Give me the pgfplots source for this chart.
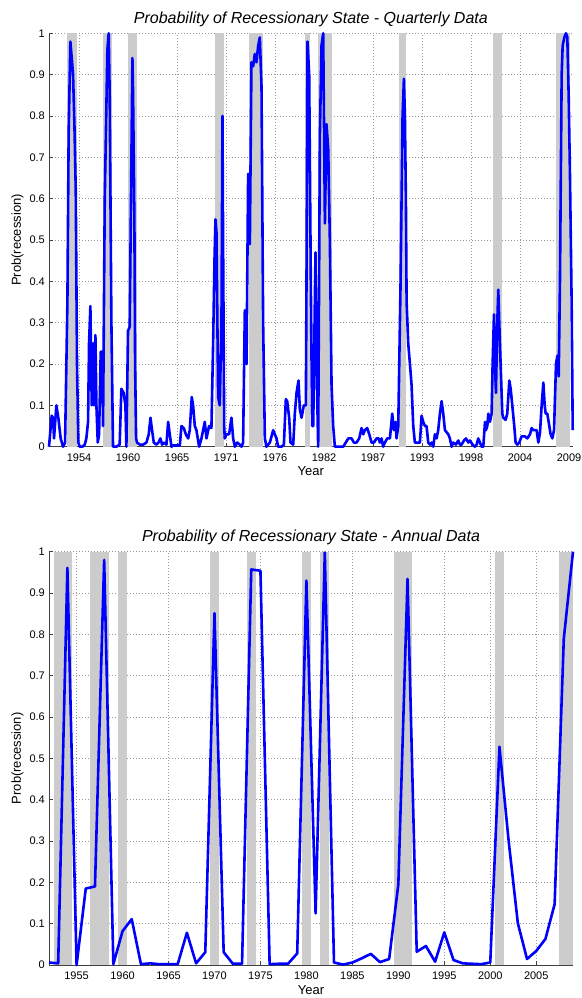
\documentclass[border=0pt]{standalone}
\usepackage{pgfplots}
\usepackage{pgfplotstable}
\pgfplotsset{compat=1.18}
\usepackage{fontspec}
\setmainfont{Liberation Sans}
\definecolor{recgray}{gray}{0.8}
\definecolor{mblue}{rgb}{0,0,1}

\pgfplotstableread{
year prob
1951.45 0.00
1951.53 0.02
1951.75 0.075
1951.90 0.07
1952.01 0.02
1952.27 0.10
1952.49 0.07
1952.75 0.02
1953.01 0.00
1953.24 0.01
1953.50 0.35
1953.64 0.76
1953.83 0.98
1954.02 0.93
1954.13 0.90
1954.28 0.78
1954.43 0.62
1954.57 0.20
1954.72 0.01
1954.87 0.00
1955.17 0.00
1955.43 0.005
1955.61 0.02
1955.80 0.06
1955.91 0.25
1956.06 0.34
1956.21 0.10
1956.36 0.25
1956.47 0.10
1956.62 0.27
1956.73 0.10
1956.88 0.01
1957.03 0.03
1957.21 0.23
1957.36 0.23
1957.47 0.05
1957.66 0.60
1957.84 0.82
1957.95 0.96
1958.10 1.00
1958.21 0.85
1958.40 0.30
1958.58 0.00
1958.95 0.00
1959.32 0.005
1959.51 0.14
1959.77 0.13
1959.96 0.10
1960.07 0.00
1960.25 0.28
1960.44 0.29
1960.55 0.53
1960.63 0.70
1960.74 0.94
1960.81 0.86
1960.96 0.55
1961.04 0.20
1961.15 0.02
1961.26 0.01
1961.56 0.005
1961.93 0.005
1962.30 0.01
1962.56 0.03
1962.75 0.07
1962.93 0.04
1963.12 0.01
1963.41 0.005
1963.64 0.01
1963.86 0.02
1964.05 0.005
1964.27 0.01
1964.53 0.005
1964.72 0.06
1964.90 0.03
1965.09 0.00
1965.27 0.003
1965.64 0.003
1966.02 0.003
1966.20 0.05
1966.46 0.045
1966.69 0.03
1966.95 0.02
1967.13 0.04
1967.35 0.12
1967.50 0.10
1967.69 0.05
1967.87 0.04
1968.17 0.00
1968.43 0.02
1968.80 0.06
1968.99 0.02
1969.28 0.05
1969.54 0.045
1969.73 0.25
1969.88 0.45
1969.99 0.55
1970.10 0.52
1970.29 0.12
1970.47 0.10
1970.66 0.30
1970.77 0.80
1970.84 0.50
1970.96 0.05
1971.03 0.02
1971.22 0.03
1971.51 0.03
1971.77 0.07
1971.96 0.02
1972.15 0.00
1972.41 0.01
1972.70 0.005
1972.89 0.00
1973.07 0.01
1973.26 0.33
1973.45 0.20
1973.63 0.66
1973.82 0.49
1974.00 0.93
1974.19 0.92
1974.37 0.95
1974.56 0.93
1974.75 0.97
1974.93 0.99
1975.12 0.87
1975.30 0.30
1975.49 0.02
1975.67 0.00
1976.05 0.01
1976.42 0.04
1976.79 0.02
1976.97 0.00
1977.35 0.00
1977.61 0.005
1977.83 0.115
1977.98 0.11
1978.20 0.07
1978.35 0.01
1978.65 0.005
1978.83 0.08
1979.02 0.13
1979.24 0.16
1979.39 0.09
1979.58 0.07
1979.83 0.10
1980.06 0.10
1980.13 0.40
1980.24 0.98
1980.43 0.90
1980.61 0.40
1980.76 0.05
1980.88 0.05
1981.13 0.47
1981.25 0.20
1981.43 0.00
1981.62 0.75
1981.80 0.97
1981.99 1.00
1982.18 0.54
1982.36 0.78
1982.55 0.72
1982.73 0.50
1982.92 0.15
1983.10 0.05
1983.29 0.00
1983.48 0.00
1984.22 0.00
1984.78 0.02
1985.15 0.02
1985.41 0.01
1985.70 0.01
1986.00 0.02
1986.26 0.045
1986.45 0.03
1986.63 0.04
1986.89 0.045
1987.12 0.03
1987.38 0.01
1987.64 0.01
1987.93 0.02
1988.16 0.02
1988.30 0.01
1988.49 0.02
1988.67 0.00
1988.86 0.01
1989.12 0.02
1989.42 0.02
1989.68 0.08
1989.86 0.04
1990.05 0.06
1990.16 0.02
1990.35 0.05
1990.46 0.20
1990.61 0.40
1990.72 0.60
1990.83 0.80
1990.98 0.89
1991.09 0.80
1991.20 0.60
1991.28 0.35
1991.46 0.25
1991.65 0.20
1991.83 0.15
1992.02 0.05
1992.20 0.01
1992.46 0.01
1992.76 0.01
1992.95 0.075
1993.13 0.06
1993.32 0.05
1993.50 0.05
1993.69 0.01
1993.88 0.005
1994.06 0.01
1994.25 0.00
1994.43 0.03
1994.62 0.02
1994.80 0.04
1994.99 0.08
1995.18 0.11
1995.36 0.08
1995.55 0.04
1995.92 0.03
1996.10 0.02
1996.29 0.00
1996.48 0.01
1996.77 0.005
1997.03 0.015
1997.22 0.005
1997.40 0.005
1997.66 0.015
1997.89 0.02
1998.15 0.01
1998.33 0.015
1998.63 0.005
1998.89 0.00
1999.08 0.005
1999.26 0.02
1999.45 0.01
1999.63 0.00
1999.82 0.00
2000.01 0.06
2000.12 0.04
2000.27 0.05
2000.38 0.08
2000.56 0.06
2000.75 0.08
2000.86 0.20
2001.01 0.32
2001.12 0.20
2001.23 0.13
2001.38 0.30
2001.49 0.38
2001.60 0.30
2001.75 0.20
2001.94 0.08
2002.05 0.07
2002.31 0.065
2002.49 0.08
2002.72 0.16
2002.87 0.14
2003.05 0.10
2003.27 0.05
2003.42 0.01
2003.61 0.005
2003.83 0.01
2004.09 0.025
2004.46 0.025
2004.72 0.02
2005.02 0.03
2005.21 0.045
2005.39 0.04
2005.62 0.04
2005.76 0.04
2005.95 0.01
2006.14 0.035
2006.32 0.10
2006.51 0.155
2006.66 0.10
2006.77 0.08
2006.95 0.08
2007.10 0.06
2007.32 0.03
2007.51 0.02
2007.70 0.04
2007.92 0.20
2008.07 0.22
2008.22 0.17
2008.36 0.40
2008.55 0.90
2008.66 0.97
2008.85 0.99
2009.03 1.00
2009.18 0.99
2009.33 0.85
2009.48 0.65
2009.66 0.35
2009.78 0.04
}\quarterly

\pgfplotstableread{
year prob
1952 0.006
1953 0.004
1954 0.961
1955 0.000
1956 0.185
1957 0.190
1958 0.980
1959 0.002
1960 0.082
1961 0.111
1962 0.002
1963 0.004
1964 0.002
1965 0.002
1966 0.002
1967 0.078
1968 0.004
1969 0.031
1970 0.851
1971 0.031
1972 0.003
1973 0.003
1974 0.957
1975 0.954
1976 0.002
1977 0.003
1978 0.003
1979 0.028
1980 0.930
1981 0.125
1982 0.998
1983 0.006
1984 0.001
1985 0.006
1986 0.016
1987 0.027
1988 0.007
1989 0.0145
1990 0.195
1991 0.934
1992 0.032
1993 0.046
1994 0.008
1995 0.079
1996 0.012
1997 0.004
1998 0.003
1999 0.002
2000 0.006
2001 0.528
2002 0.300
2003 0.101
2004 0.0145
2005 0.034
2006 0.063
2007 0.147
2008 0.790
2009 1.000
}\annual

\newcommand{\band}[2]{\addplot[draw=none, fill=recgray, forget plot] coordinates {(#1,0) (#1,1) (#2,1) (#2,0)} -- cycle;}

\pgfplotsset{
  recstyle/.style={
    scale only axis,
    anchor=south west,
    axis x line*=bottom,
    axis y line*=left,
    axis line style={black!75, line width=0.7pt},
    tick align=inside,
    major tick length=4pt,
    tick style={black!75, line width=0.6pt},
    ymin=0, ymax=1,
    ytick={0,0.1,0.2,0.3,0.4,0.5,0.6,0.7,0.8,0.9,1},
    yticklabels={0,0.1,0.2,0.3,0.4,0.5,0.6,0.7,0.8,0.9,1},
    grid=major,
    grid style={gray!80, line width=0.55pt, dash pattern=on 0.8pt off 2.2pt},
    tick label style={font=\fontsize{11}{13}\selectfont, inner sep=0pt},
    xticklabel style={anchor=north, yshift=-6.5pt},
    yticklabel style={anchor=east, xshift=-4pt},
    xlabel={Year},
    ylabel={Prob(recession)},
    label style={font=\fontsize{13}{15}\selectfont, inner sep=0pt},
    xlabel style={at={(axis description cs:0.5,0)}, anchor=north, yshift=-20pt},
    ylabel style={at={([xshift=-31.5pt]axis description cs:0,0.5)}, anchor=center},
    every axis title shift=0pt,
    title style={font=\fontsize{16}{19}\selectfont\itshape, at={(axis description cs:0.5,1)}, anchor=base, yshift=10pt, inner sep=0pt},
    clip=false,
  }
}

\begin{document}
\begin{tikzpicture}
\useasboundingbox (0,0) rectangle (581pt,998pt);
\begin{axis}[recstyle,
  at={(49pt,551.3pt)}, width=523.7pt, height=413.4pt,
  xmin=1951.45, xmax=2009.78,
  xtick={1954.80,1960.26,1965.72,1971.18,1976.63,1982.09,1987.54,1993.00,1998.45,2003.91,2009.37},
  xticklabels={1954,1960,1965,1971,1976,1982,1987,1993,1998,2004,2009},
  title={Probability of Recessionary State - Quarterly Data}]
\band{1953.50}{1954.57}
\band{1957.51}{1958.52}
\band{1960.25}{1961.22}
\band{1969.99}{1970.99}
\band{1973.71}{1975.23}
\band{1979.98}{1980.47}
\band{1981.39}{1982.99}
\band{1990.42}{1991.17}
\band{2000.93}{2001.93}
\band{2007.92}{2009.48}
\addplot[mblue, line width=2.6pt, line join=round] table[x=year, y=prob] {\quarterly};
\end{axis}

\begin{axis}[recstyle,
  at={(49pt,33pt)}, width=524pt, height=413.3pt,
  xmin=1952, xmax=2009,
  xtick={1955,1960,1965,1970,1975,1980,1985,1990,1995,2000,2005},
  xticklabels={1955,1960,1965,1970,1975,1980,1985,1990,1995,2000,2005},
  title={Probability of Recessionary State - Annual Data}]
\band{1952.5}{1954.5}
\band{1956.5}{1958.5}
\band{1959.5}{1960.5}
\band{1969.5}{1970.5}
\band{1973.5}{1974.5}
\band{1979.5}{1980.5}
\band{1981.5}{1982.5}
\band{1989.5}{1991.5}
\band{2000.5}{2001.5}
\band{2007.5}{2009}
\addplot[mblue, line width=2.6pt, line join=round] table[x=year, y=prob] {\annual};
\end{axis}
\end{tikzpicture}
\end{document}
